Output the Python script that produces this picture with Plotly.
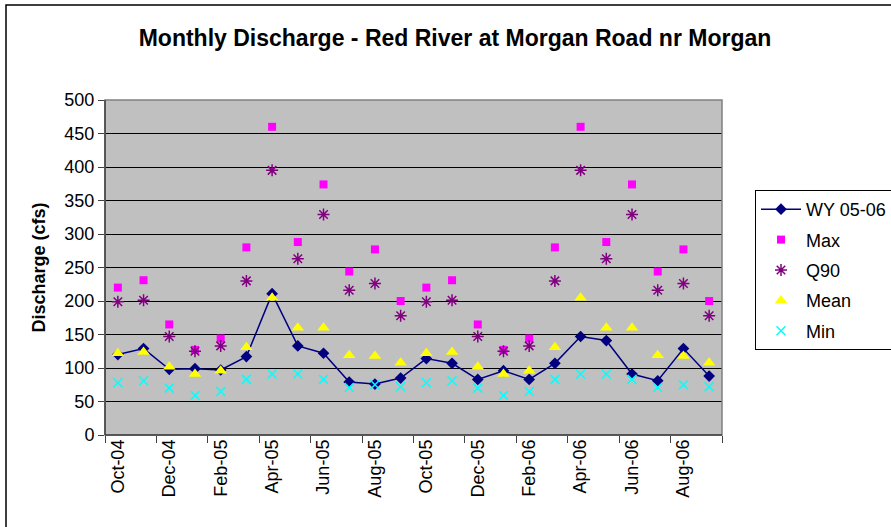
import plotly.graph_objects as go

months = ["Oct-04", "Nov-04", "Dec-04", "Jan-05", "Feb-05", "Mar-05", "Apr-05", "May-05",
          "Jun-05", "Jul-05", "Aug-05", "Sep-05", "Oct-05", "Nov-05", "Dec-05", "Jan-06",
          "Feb-06", "Mar-06", "Apr-06", "May-06", "Jun-06", "Jul-06", "Aug-06", "Sep-06"]

wy_0506 = [120, 129, 98, 99, 97, 117, 211, 133, 122, 79, 76, 85,
           114, 107, 83, 96, 83, 107, 147, 141, 91, 81, 129, 88]

max_monthly = [220, 231, 165, 127, 144, 280, 460, 288, 374, 244, 277, 200]
q90_monthly = [199, 201, 147, 125, 133, 230, 395, 263, 329, 216, 226, 178]
mean_monthly = [122, 124, 102, 91, 96, 131, 205, 160, 160, 119, 118, 108]
min_monthly = [78, 81, 70, 59, 65, 83, 91, 91, 83, 71, 75, 72]

max_vals = max_monthly * 2
q90_vals = q90_monthly * 2
mean_vals = mean_monthly * 2
min_vals = min_monthly * 2

x = list(range(len(months)))
FONT = "Arial, Liberation Sans, sans-serif"

fig = go.Figure()
fig.add_trace(go.Scatter(x=x, y=wy_0506, name="WY 05-06", mode="lines+markers",
                         line=dict(color="#000080", width=1.5),
                         marker=dict(symbol="diamond", size=9, color="#000080"),
                         legendgroup="a"))
fig.add_trace(go.Scatter(x=x, y=max_vals, name="Max", mode="markers",
                         marker=dict(symbol="square", size=8, color="#FF00FF"),
                         legendgroup="b"))
fig.add_trace(go.Scatter(x=x, y=q90_vals, name="Q90", mode="markers",
                         marker=dict(symbol="asterisk-open", size=10, color="#800080",
                                     line=dict(color="#800080", width=1.5)),
                         legendgroup="c"))
fig.add_trace(go.Scatter(x=x, y=mean_vals, name="Mean", mode="markers",
                         marker=dict(symbol="triangle-up", size=11, color="#FFFF00"),
                         legendgroup="d"))
fig.add_trace(go.Scatter(x=x, y=min_vals, name="Min", mode="markers",
                         marker=dict(symbol="x-thin-open", size=9, color="#00FFFF",
                                     line=dict(color="#00FFFF", width=1.5)),
                         legendgroup="e"))

L, R, T, B = 105, 891 - 722, 100, 527 - 435
PW, PH = 891 - L - R, 527 - T - B

fig.update_layout(
    width=891, height=527,
    margin=dict(l=L, r=R, t=T, b=B, autoexpand=False),
    paper_bgcolor="white",
    plot_bgcolor="#C0C0C0",
    font=dict(family=FONT, size=18, color="black"),
    title=dict(text="<b>Monthly Discharge - Red River at Morgan Road nr Morgan</b>",
               x=455 / 891, xanchor="center", y=1 - 38 / 527, yanchor="middle",
               font=dict(family=FONT, size=23, color="black")),
    showlegend=True,
    legend=dict(x=(755 - L) / PW, xanchor="left",
                y=(435 - 190) / PH, yanchor="top",
                bgcolor="white", bordercolor="black", borderwidth=1,
                font=dict(family=FONT, size=18, color="black"),
                tracegroupgap=4, traceorder="grouped", itemwidth=40),
    xaxis=dict(range=[-0.5, len(months) - 0.5], tickmode="array",
               tickvals=x[::2], ticktext=months[::2], tickangle=-90,
               ticks="", showgrid=False, zeroline=False,
               tickfont=dict(family=FONT, size=18),
               showline=False,
               minor=dict(tickmode="array",
                          tickvals=[v - 0.5 for v in x[::2]] + [len(months) - 0.5],
                          ticks="outside", ticklen=7, tickcolor="#404040", tickwidth=1,
                          showgrid=False)),
    yaxis=dict(range=[0, 500], dtick=50, tick0=0, ticks="outside", ticklen=6,
               tickcolor="#404040", showgrid=True, gridcolor="black", gridwidth=1,
               zeroline=False, showline=False,
               tickfont=dict(family=FONT, size=18),
               title=dict(text="<b>Discharge (cfs)</b>", standoff=14,
                          font=dict(family=FONT, size=18))),
    shapes=[
        dict(type="rect", xref="paper", yref="paper", x0=0, x1=1, y0=0, y1=1,
             line=dict(color="#808080", width=1.5), layer="above"),
        dict(type="line", xref="paper", yref="paper", x0=0, x1=0, y0=0, y1=1,
             line=dict(color="#404040", width=1.5), layer="above"),
        dict(type="line", xref="paper", yref="paper", x0=0, x1=1, y0=0, y1=0,
             line=dict(color="#404040", width=1.5), layer="above"),
        dict(type="rect", xref="paper", yref="paper",
             x0=(6 - L) / PW, x1=(900 - L) / PW,
             y0=(435 - 540) / PH, y1=(435 - 5) / PH,
             line=dict(color="black", width=1.5), layer="below"),
    ],
)

fig.write_html("out.html", config={"displayModeBar": False},
               post_script="document.body.style.margin='0';document.body.style.overflow='hidden';")
